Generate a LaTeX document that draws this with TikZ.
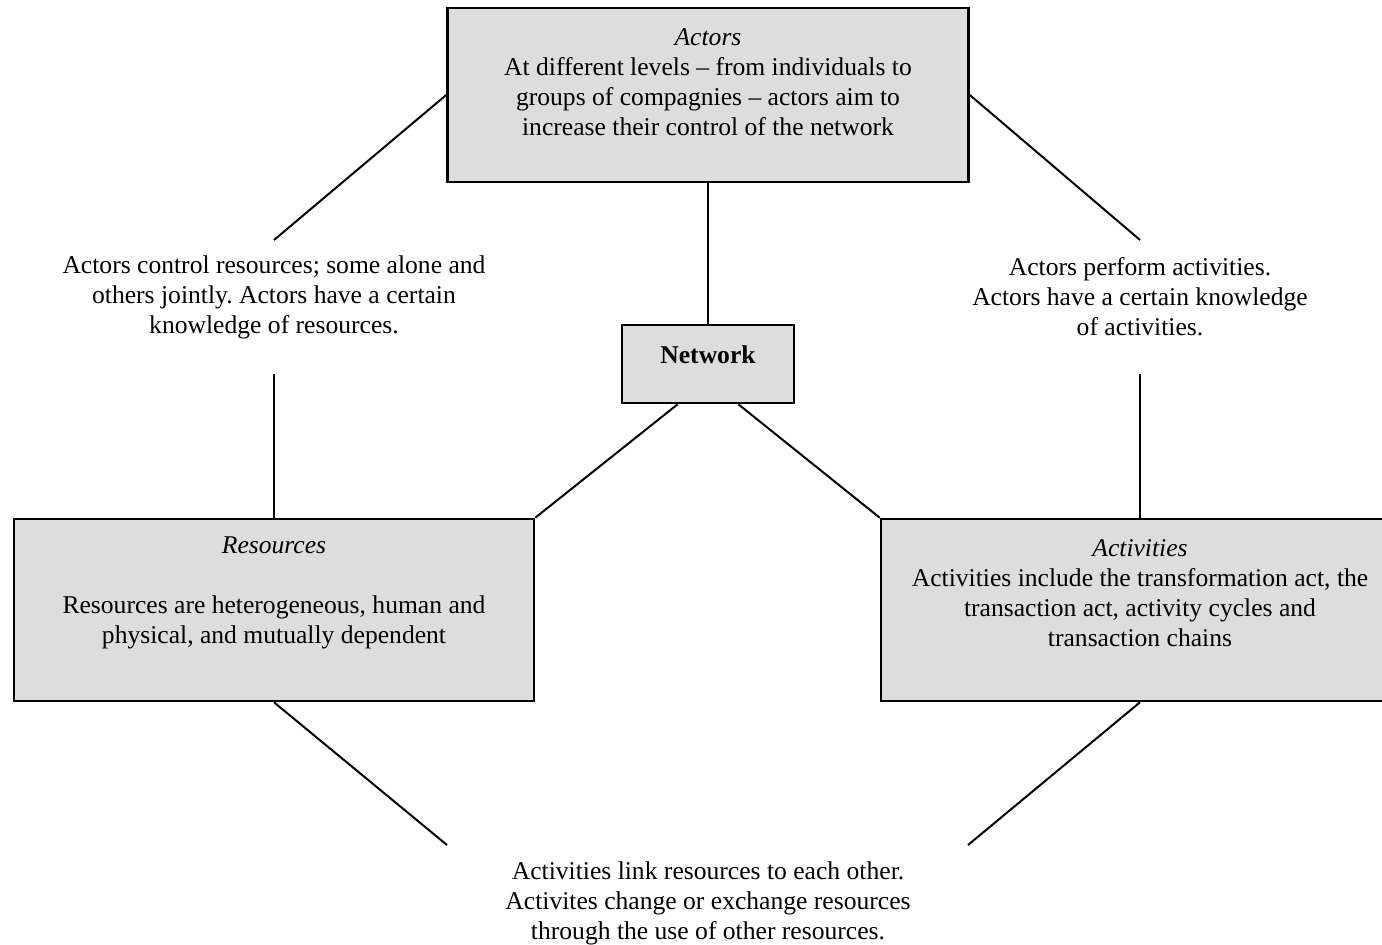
\documentclass[tikz,border=0pt]{standalone}
\usepackage{fontspec}
\setmainfont{Liberation Serif}
\frenchspacing
\definecolor{boxgray}{RGB}{221,221,221}
\begin{document}
\begin{tikzpicture}[x=0.5pt,y=-0.5pt,
    box/.style={draw,fill=boxgray,line width=1.3pt,inner sep=0pt},
    txt/.style={align=center,inner sep=0pt,font=\fontsize{12.8}{15}\selectfont},
    lnk/.style={line width=1pt}]
      \path[use as bounding box] (0,0) rectangle (1382,945);
      \node[box,minimum width=260.5pt,minimum height=87pt] at (708,95) (act) {};
      \node[txt] at (708,82) (tact) {\textit{Actors}\\At different levels -- from individuals to\\groups of compagnies -- actors aim to\\increase their control of the network};
      \node[box,txt,minimum width=86pt,minimum height=39pt,text height=8.5pt,text depth=8.5pt] at (708,364) (net) {\textbf{Network}};
      \node[box,minimum width=260pt,minimum height=91pt] at (274,610) (res) {};
      \node[txt] at (274,593) (tres) {\textit{Resources}\\[15pt]Resources are heterogeneous, human and\\physical, and mutually dependent};
      \node[box,minimum width=259pt,minimum height=91pt] at (1140,610) (acty) {};
      \node[txt] at (1140,593) (tacty) {\textit{Activities}\\Activities include the transformation act, the\\transaction act, activity cycles and\\transaction chains};
      \node[txt] at (274,297) (lres) {Actors control resources; some alone and\\others jointly. Actors have a certain\\knowledge of resources.};
      \node[txt] at (1140,297) (lacty) {Actors perform activities.\\Actors have a certain knowledge\\of activities.};
      \node[txt] at (708,903) (lbot) {Activities link resources to each other.\\Activites change or exchange resources\\through the use of other resources.};
      \coordinate (c1) at (274,240);
      \coordinate (c2) at (274,374);
      \coordinate (c3) at (1140,240);
      \coordinate (c4) at (1140,374);
      \coordinate (c5) at (447,845);
      \coordinate (c6) at (968,845);
      \path[draw,lnk] (act.west) -- (c1);
      \path[draw,lnk] (c2) -- (res.north);
      \path[draw,lnk] (act.east) -- (c3);
      \path[draw,lnk] (c4) -- (acty.north);
      \path[draw,lnk] (act.south) -- (net.north);
      \path[draw,lnk] (net.233) -- (res.north east);
      \path[draw,lnk] (net.307) -- (acty.north west);
      \path[draw,lnk] (res.south) -- (c5);
      \path[draw,lnk] (acty.south) -- (c6);
    \end{tikzpicture}
\end{document}
